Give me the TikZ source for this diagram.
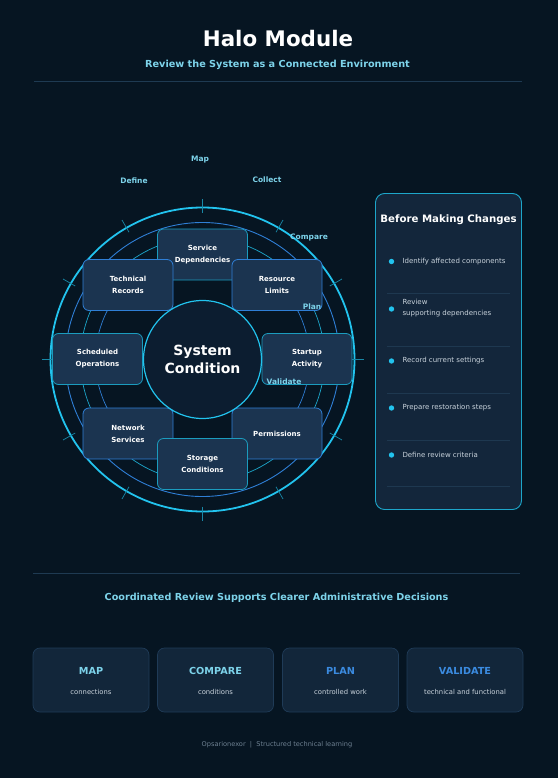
\documentclass[tikz,border=0pt]{standalone}
\usepackage{fontspec}
\setmainfont{DejaVu Sans}
\usetikzlibrary{calc}
\definecolor{bg}{HTML}{061522}
\definecolor{rule}{HTML}{1E3A52}
\definecolor{cyanA}{HTML}{22C3EE}
\definecolor{blueA}{HTML}{2F7FD6}
\definecolor{lbl}{HTML}{7DD3EA}
\definecolor{boxfill}{HTML}{1B3450}
\definecolor{corefill}{HTML}{0C1D30}
\definecolor{panelfill}{HTML}{13263B}
\definecolor{cardfill}{HTML}{12263A}
\definecolor{cardline}{HTML}{1F3B57}
\definecolor{sepline}{HTML}{1E3850}
\definecolor{txtgray}{HTML}{C9D3DC}
\definecolor{footgray}{HTML}{6E8192}
\definecolor{planblue}{HTML}{3B8BE0}
\tikzset{
  axisbox/.style={draw=cyanA!80!black, line width=0.8pt, fill=boxfill, rounded corners=6pt,
    minimum width=90pt, minimum height=51pt, align=center, text=white,
    font=\fontsize{7}{12}\selectfont\bfseries},
  diagbox/.style={axisbox, draw=blueA},
  ringlabel/.style={text=lbl, font=\fontsize{7.5}{9}\selectfont\bfseries},
  itemtxt/.style={text=txtgray, font=\fontsize{7}{11}\selectfont, anchor=west, align=left},
  bulletdot/.style={circle, fill=cyanA, inner sep=0pt, minimum size=5.4pt},
  card/.style={draw=cardline, line width=0.7pt, fill=cardfill, rounded corners=7pt,
    minimum width=116pt, minimum height=64pt},
  cardtitle/.style={font=\fontsize{9.7}{11}\selectfont\bfseries},
  cardsub/.style={text=txtgray, font=\fontsize{6.8}{8}\selectfont},
}
\begin{document}
\begin{tikzpicture}[x=1pt,y=-1pt]
\fill[bg] (0,0) rectangle (558,778);
\useasboundingbox (0,0) rectangle (558,778);

% header
\node[text=white, font=\fontsize{21.4}{24}\selectfont\bfseries] (title) at (278,39) {Halo Module};
\node[text=lbl, font=\fontsize{9.7}{11}\selectfont\bfseries] (subtitle) at (277.5,64.5) {Review the System as a Connected Environment};
\draw[rule, line width=0.8pt] (34,81) -- (522,81);

% rings
\coordinate (C) at (202.5,359.5);
\draw[blueA, line width=0.7pt] (C) circle[radius=107pt];
\draw[cyanA!85!black, line width=0.7pt] (C) circle[radius=122pt];
\draw[blueA, line width=0.9pt] (C) circle[radius=137pt];
\draw[cyanA, line width=1.8pt] (C) circle[radius=152pt];
\foreach \a in {0,30,...,330}
  \draw[cyanA!70!black, line width=0.7pt] ($(C)+(\a:147pt)$) -- ($(C)+(\a:161pt)$);

% boxes
\node[axisbox] (svc) at (202.5,254.5) {Service\\Dependencies};
\node[diagbox] (tec) at (128,285) {Technical\\Records};
\node[diagbox] (res) at (277,285) {Resource\\Limits};
\node[axisbox] (sch) at (97.5,359) {Scheduled\\Operations};
\node[axisbox] (stu) at (307,359) {Startup\\Activity};
\node[diagbox] (net) at (128,433.5) {Network\\Services};
\node[diagbox] (per) at (277,433.5) {Permissions};
\node[axisbox] (sto) at (202.5,464) {Storage\\Conditions};

% core
\node[circle, draw=cyanA, line width=1.2pt, fill=corefill, minimum size=118pt, inner sep=0pt,
  align=center, text=white, font=\fontsize{14}{18}\selectfont\bfseries] (core) at (C) {System\\Condition};

% ring labels
\node[ringlabel] (lmap) at (200,159.5) {Map};
\node[ringlabel] (ldef) at (134,181) {Define};
\node[ringlabel] (lcol) at (267,180) {Collect};
\node[ringlabel] (lcmp) at (309,237) {Compare};
\node[ringlabel] (lpla) at (312,306.5) {Plan};
\node[ringlabel] (lval) at (284,381.5) {Validate};

% right panel
\node[draw=cyanA!85!black, line width=0.9pt, fill=panelfill, rounded corners=9pt,
  minimum width=146pt, minimum height=316pt, inner sep=0pt] (panel) at (448.5,351.5) {};
\node[text=white, font=\fontsize{10.2}{12}\selectfont\bfseries] (ptitle) at (448.5,220) {Before Making Changes};
\foreach \y in {293,346.5,393,440.5,486.5}
  \draw[sepline, line width=0.7pt] (387,\y) -- (510,\y);
\node[bulletdot] (b1) at (391.5,261.5) {};
\node[itemtxt] (t1) at (399,262) {Identify affected components};
\node[bulletdot] (b2) at (391.5,309) {};
\node[itemtxt] (t2) at (399,308) {Review\\supporting dependencies};
\node[bulletdot] (b3) at (391.5,361) {};
\node[itemtxt] (t3) at (399,361) {Record current settings};
\node[bulletdot] (b4) at (391.5,408) {};
\node[itemtxt] (t4) at (399,408) {Prepare restoration steps};
\node[bulletdot] (b5) at (391.5,455) {};
\node[itemtxt] (t5) at (399,455) {Define review criteria};

% bottom section
\draw[rule, line width=0.8pt] (33,573) -- (520,573);
\node[text=lbl, font=\fontsize{9.65}{11}\selectfont\bfseries] (heading) at (276.5,597.5) {Coordinated Review Supports Clearer Administrative Decisions};

\node[card] (c1) at (91,680) {};
\node[card] (c2) at (215.5,680) {};
\node[card] (c3) at (340.5,680) {};
\node[card] (c4) at (465,680) {};
\node[cardtitle, text=lbl] (c1t) at (91,670.5) {MAP};
\node[cardtitle, text=lbl] (c2t) at (215.5,670.5) {COMPARE};
\node[cardtitle, text=planblue] (c3t) at (340.5,670.5) {PLAN};
\node[cardtitle, text=planblue] (c4t) at (465,670.5) {VALIDATE};
\node[cardsub] (c1s) at (91,691.5) {connections};
\node[cardsub] (c2s) at (215.5,691.5) {conditions};
\node[cardsub] (c3s) at (340.5,691.5) {controlled work};
\node[cardsub] (c4s) at (465,691.5) {technical and functional};

\node[text=footgray, font=\fontsize{6.6}{8}\selectfont] (foot) at (277,744.5) {Opsarionexor \ | \ Structured technical learning};
\end{tikzpicture}
\end{document}
